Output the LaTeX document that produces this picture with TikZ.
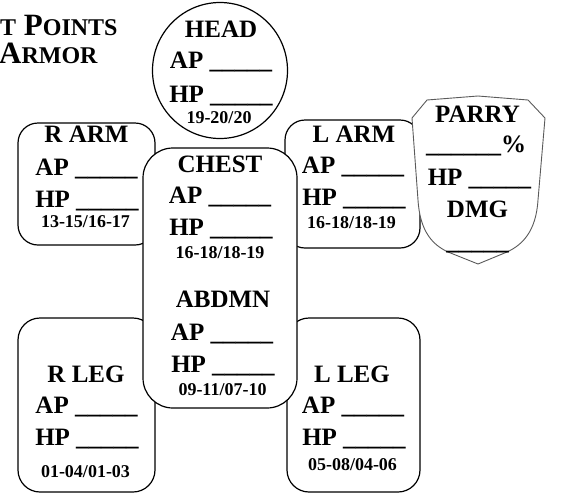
\documentclass[tikz,border=0pt]{standalone}
\usepackage{fontspec}
\setmainfont{Liberation Serif}
\begin{document}
\begin{tikzpicture}[x=1pt,y=-1pt,
  part/.style={draw=black, line width=1.2pt, fill=white, rounded corners=20pt},
  lbl/.style={font=\fontsize{25}{25}\selectfont\bfseries, anchor=base, inner sep=0pt},
  num/.style={font=\fontsize{18}{18}\selectfont\bfseries, anchor=base, inner sep=0pt},
  ttl/.style={font=\fontsize{31}{31}\selectfont\bfseries, anchor=base west, inner sep=0pt}]
\useasboundingbox (0,0) rectangle (563,496);
\newcommand{\smc}[1]{{\fontsize{24}{24}\selectfont #1}}
% title
\node[ttl] (t1) at (0,35) {\smc{T} P\smc{OINTS}};
\node[ttl] (t2) at (-1,63) {A\smc{RMOR}};
% head
\draw[line width=1.2pt] (220,70.5) ellipse [x radius=67.5, y radius=68];
\node[lbl] (headt) at (221,37) {HEAD};
\node[lbl] (heada) at (221,68.5) {AP \_\_\_\_\_};
\node[lbl] (headh) at (221,102) {HP \_\_\_\_\_};
\node[num] (headn) at (219,123) {19-20/20};
% right arm
\draw[part] (18,123) rectangle (155,245);
\node[lbl] (rat) at (86.5,142) {R ARM};
\node[lbl] (raa) at (86.5,175) {AP \_\_\_\_\_};
\node[lbl] (rah) at (87,207) {HP \_\_\_\_\_};
\node[num] (ran) at (85.5,227) {13-15/16-17};
% left arm
\draw[part] (285,120) rectangle (420,248);
\node[lbl] (lat) at (354,142) {L ARM};
\node[lbl] (laa) at (353,173) {AP \_\_\_\_\_};
\node[lbl] (lah) at (354,205) {HP \_\_\_\_\_};
\node[num] (lan) at (351.5,228) {16-18/18-19};
% right leg
\draw[part, rounded corners=22pt] (18,318) rectangle (155,492);
\node[lbl] (rlt) at (86,382) {R LEG};
\node[lbl] (rla) at (86.5,413) {AP \_\_\_\_\_};
\node[lbl] (rlh) at (87,445) {HP \_\_\_\_\_};
\node[num] (rln) at (85.5,477) {01-04/01-03};
% left leg
\draw[part, rounded corners=22pt] (287,318) rectangle (420,492);
\node[lbl] (llt) at (352,382) {L LEG};
\node[lbl] (lla) at (353,413) {AP \_\_\_\_\_};
\node[lbl] (llh) at (354,445) {HP \_\_\_\_\_};
\node[num] (lln) at (352.5,470) {05-08/04-06};
% chest
\draw[part, rounded corners=30pt] (143,148) rectangle (297,408);
\node[lbl] (cht) at (220,172) {CHEST};
\node[lbl] (cha) at (220,203) {AP \_\_\_\_\_};
\node[lbl] (chh) at (221,235) {HP \_\_\_\_\_};
\node[num] (chn) at (220,258) {16-18/18-19};
\node[lbl] (abt) at (223,307) {ABDMN};
\node[lbl] (aba) at (222,340) {AP \_\_\_\_\_};
\node[lbl] (abh) at (223,372) {HP \_\_\_\_\_};
\node[num] (abn) at (222.5,395) {09-11/07-10};
% parry shield
\draw[draw={rgb,255:red,90;green,90;blue,90}, line width=0.9pt, fill=white]
  (412,118) -- (427,100) -- (478,96) -- (528,100) -- (545,118) -- (538,200)
  .. controls (536,232) and (522,245) .. (507,252) -- (478,264) -- (448,252)
  .. controls (433,245) and (420,232) .. (418,200) -- cycle;
\node[lbl] (pat) at (477.5,122) {PARRY};
\node[lbl] (pap) at (476,152) {\_\_\_\_\_\_\%};
\node[lbl] (pah) at (479.5,185) {HP \_\_\_\_\_};
\node[lbl] (pad) at (477.5,217) {DMG};
\node[lbl] (pal) at (477.5,249) {\_\_\_\_\_};
\end{tikzpicture}
\end{document}
